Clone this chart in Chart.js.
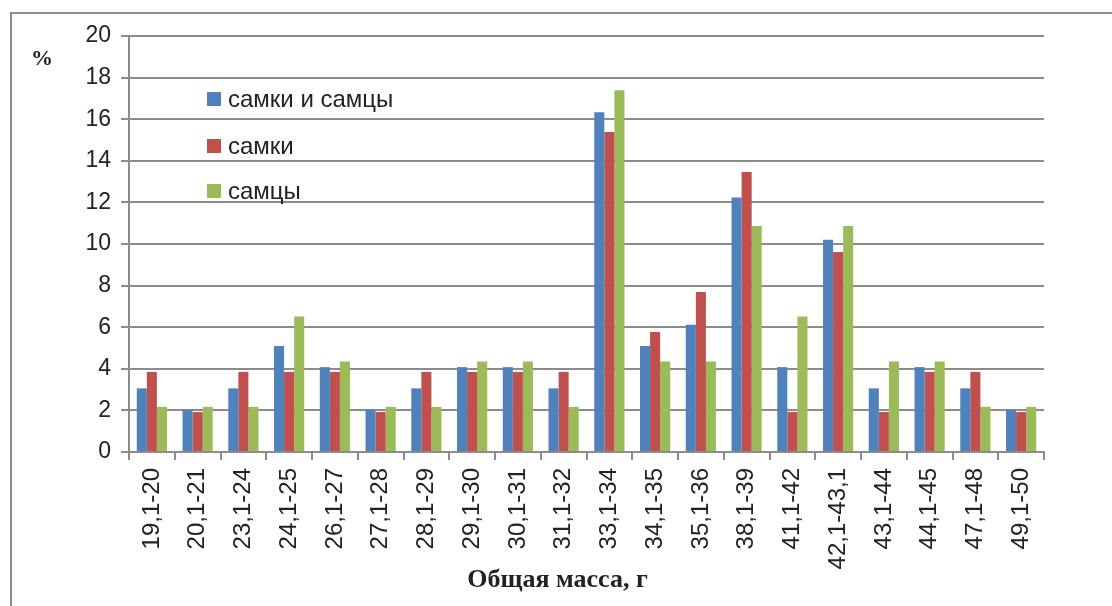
<!DOCTYPE html>
<html>
<head>
<meta charset="utf-8">
<script src="https://cdn.jsdelivr.net/npm/chart.js@4/dist/chart.umd.min.js"></script>
<style>
html,body{margin:0;padding:0;background:#fff;}
#wrap{position:relative;width:1112px;height:606px;}
canvas{display:block;}
</style>
</head>
<body>
<div id="wrap"><canvas id="c" width="1112" height="606"></canvas></div>
<script>
const categories = ["19,1-20","20,1-21","23,1-24","24,1-25","26,1-27","27,1-28","28,1-29","29,1-30","30,1-31","31,1-32","33,1-34","34,1-35","35,1-36","38,1-39","41,1-42","42,1-43,1","43,1-44","44,1-45","47,1-48","49,1-50"];
const seriesNames = ["самки и самцы","самки","самцы"];
const both = [3.06,2.04,3.06,5.10,4.08,2.04,3.06,4.08,4.08,3.06,16.33,5.10,6.12,12.24,4.08,10.20,3.06,4.08,3.06,2.04];
const females = [3.85,1.92,3.85,3.85,3.85,1.92,3.85,3.85,3.85,3.85,15.38,5.77,7.69,13.46,1.92,9.62,1.92,3.85,3.85,1.92];
const males = [2.17,2.17,2.17,6.52,4.35,2.17,2.17,4.35,4.35,2.17,17.39,4.35,4.35,10.87,6.52,10.87,4.35,4.35,2.17,2.17];
const yTicks = [0,2,4,6,8,10,12,14,16,18,20];
const xTitle = "Общая масса, г";
const yTitle = "%";
const colors = ["#4F81BD","#C0504D","#9BBB59"];

const extras = {
  id:'extras',
  beforeDraw(chart){
    const ctx = chart.ctx;
    ctx.save();
    ctx.fillStyle='#fff';
    ctx.fillRect(0,0,chart.width,chart.height);
    ctx.strokeStyle='#8c8c8c';
    ctx.lineWidth=2;
    ctx.beginPath();
    ctx.moveTo(11,606);
    ctx.lineTo(11,13);
    ctx.lineTo(1112,13);
    ctx.stroke();
    ctx.restore();
  },
  afterDraw(chart){
    const ctx = chart.ctx;
    ctx.save();
    // legend
    const lx = 207, ly = [99,146,191];
    chart.data.datasets.forEach((ds,i)=>{
      ctx.fillStyle = ds.backgroundColor;
      ctx.fillRect(lx, ly[i]-7, 14, 14);
      ctx.fillStyle = '#222';
      ctx.font = '24px "Liberation Sans", Arial, sans-serif';
      ctx.textBaseline='middle';
      ctx.textAlign='left';
      ctx.fillText(ds.label, lx+21, ly[i]+1);
    });
    // y title
    ctx.font = 'bold 22px "Liberation Serif", "Times New Roman", serif';
    ctx.fillStyle='#222';
    ctx.textAlign='center';
    ctx.textBaseline='middle';
    ctx.fillText(yTitle, 42, 59);
    // x title
    ctx.font = 'bold 26px "Liberation Serif", "Times New Roman", serif';
    const xs = chart.scales.x;
    ctx.fillText(xTitle, (xs.left+xs.right)/2 - 29, 580);
    ctx.restore();
  }
};

new Chart(document.getElementById('c'), {
  type:'bar',
  data:{
    labels: categories,
    datasets:[
      {label:seriesNames[0], data:both, backgroundColor:colors[0]},
      {label:seriesNames[1], data:females, backgroundColor:colors[1]},
      {label:seriesNames[2], data:males, backgroundColor:colors[2]}
    ]
  },
  options:{
    responsive:false,
    animation:false,
    layout:{padding:{top:36,right:68,left:0,bottom:0}},
    datasets:{bar:{categoryPercentage:0.66,barPercentage:1.0}},
    plugins:{legend:{display:false},tooltip:{enabled:false}},
    scales:{
      x:{
        afterFit(s){ s.height = 154; },
        grid:{display:true,drawOnChartArea:false,drawTicks:true,tickLength:8,color:'#8c8c8c',lineWidth:2,offset:true},
        border:{display:true,color:'#8c8c8c',width:2},
        ticks:{minRotation:90,maxRotation:90,autoSkip:false,color:'#222',padding:8,font:{family:'"Liberation Sans", Arial, sans-serif',size:24}}
      },
      y:{
        min:0,max:20,
        afterFit(s){ s.width = 129; },
        afterBuildTicks(s){ s.ticks = yTicks.map(v=>({value:v})); },
        grid:{color:'#8c8c8c',lineWidth:2,tickLength:8,drawTicks:true},
        border:{display:true,color:'#8c8c8c',width:2},
        ticks:{color:'#222',padding:10,font:{family:'"Liberation Sans", Arial, sans-serif',size:23}}
      }
    }
  },
  plugins:[extras]
});
</script>
</body>
</html>
